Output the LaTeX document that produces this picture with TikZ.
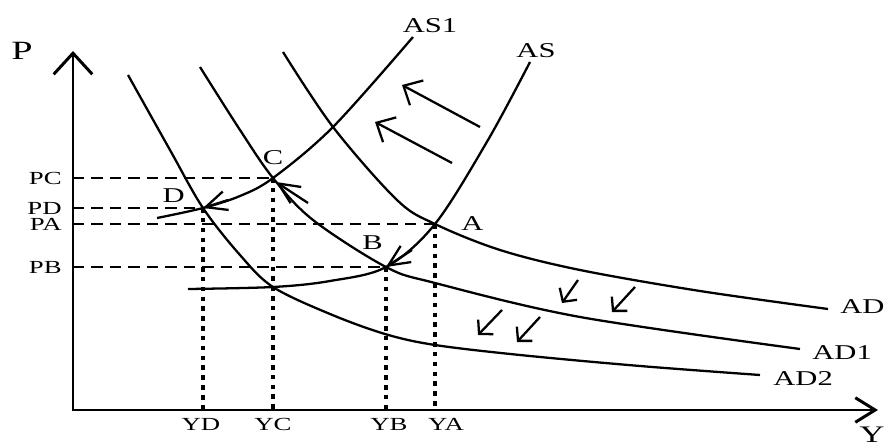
\documentclass[tikz,border=0pt]{standalone}
\usepackage{fontspec}
\setmainfont{Liberation Serif}
\newfontfamily\widefont{Liberation Serif}[FakeStretch=1.45]
\usetikzlibrary{arrows.meta, positioning}
\tikzset{
  >={Straight Barb[length=12pt,width=11pt]},
  axis/.style={line width=1.7pt},
  curve/.style={line width=1.3pt},
  guide/.style={line width=1.2pt, dash pattern=on 6.5pt off 4pt},
  drop/.style={line width=1.9pt, dash pattern=on 2.6pt off 3pt},
  move arrow/.style={->, line width=1.3pt},
  big arrow/.style={-{Straight Barb[length=8.5pt,width=16pt]}, line width=1.3pt},
  small arrow/.style={-{Straight Barb[length=5.5pt,width=12pt]}, line width=1.3pt},
  lbl/.style={font=\widefont\fontsize{12}{14}\selectfont, inner sep=0pt},
  tick lbl/.style={font=\widefont\fontsize{10.5}{12}\selectfont, inner sep=0pt},
  axis lbl/.style={font=\widefont\fontsize{15}{17}\selectfont, inner sep=0pt}
}
\begin{document}
\begin{tikzpicture}[x=0.02cm, y=-0.02cm]
  \useasboundingbox (0,0) rectangle (890,446);
  % axes
  \coordinate (O) at (73,410);
  \coordinate (Ptop) at (73,51);
  \coordinate (Yend) at (878,410);
  \draw[axis, {Straight Barb[length=12pt,width=22pt]}-{Straight Barb[length=11.3pt,width=14pt]}]
    (Ptop) -- (O) -- (Yend);
  \node[axis lbl] (lblP) at (22,51) {P};
  \node[axis lbl, font=\widefont\fontsize{13.5}{16}\selectfont, anchor=base] (lblY) at (872,442) {Y};
  % equilibrium points
  \coordinate (A) at (435,224);
  \coordinate (B) at (386,267);
  \coordinate (C) at (273,178);
  \coordinate (D) at (203,208);
  \coordinate (E) at (273,287);
  \foreach \p/\dx in {A/11,B/3,C/0,D/-2} {
    \coordinate (P\p) at (O |- \p);
    \coordinate (Y\p) at (O -| \p);
    \draw[guide] (P\p) -- (\p);
    \draw[drop] (\p) -- (Y\p);
    \node[tick lbl, left=0.22cm of P\p] (lblP\p) {P\p};
    \node[tick lbl, below=0.16cm of Y\p, xshift=\dx*0.02cm] (lblY\p) {Y\p};
  }
  % AD curves
  \draw[curve] plot[smooth, tension=0.55] coordinates
    {(283,52) (333,127) (397,200) (A) (500,250) (580,270) (700,291) (828,309)};
  \draw[curve] plot[smooth, tension=0.55] coordinates
    {(200,67) (240,130) (C) (313,220) (B) (435,283) (580,317) (800,349)};
  \draw[curve] plot[smooth, tension=0.55] coordinates
    {(128,75) (170,150) (D) (240,255) (E) (330,314) (385,334) (435,345) (520,355) (640,366) (760,375)};
  % AS curves
  \draw[curve] plot[smooth, tension=0.55] coordinates
    {(157,218) (D) (240,196) (C) (333,127) (413,37)};
  \draw[curve] plot[smooth, tension=0.55] coordinates
    {(188,289) (E) (330,281) (B) (A) (488,140) (530,62)};
  \node[lbl, anchor=west] (lblAD) at (840,307) {AD};
  \node[lbl, anchor=west] (lblAD1) at (812,353) {AD1};
  \node[lbl, anchor=west] (lblAD2) at (773,379) {AD2};
  \node[lbl] (lblAS1) at (430,26) {AS1};
  \node[lbl] (lblAS) at (536,51) {AS};
  \node[lbl, right=0.52cm of A] (lblA) {A};
  \node[lbl, above left=0.34cm and 0.06cm of B] (lblB) {B};
  \node[lbl, above=0.26cm of C] (lblC) {C};
  \node[lbl, above left=0.1cm and 0.36cm of D] (lblD) {D};
  % movements
  \coordinate (dTail) at (228,200);
  \coordinate (bTail) at (412,250);
  \coordinate (cTail) at (308,203);
  \coordinate (cTip) at (276,182);
  \draw[move arrow] (dTail) -- (D);
  \draw[move arrow] (bTail) -- (B);
  \draw[move arrow] (cTail) -- (cTip);
  \coordinate (up1a) at (480,127); \coordinate (up1b) at (402,85);
  \coordinate (up2a) at (452,163); \coordinate (up2b) at (375,122);
  \draw[big arrow] (up1a) -- (up1b);
  \draw[big arrow] (up2a) -- (up2b);
  \foreach \t/\h in {{(578,280)}/{(562,303)}, {(635,287)}/{(612,312)},
                     {(502,310)}/{(478,335)}, {(540,317)}/{(517,342)}} {
    \draw[small arrow] \t -- \h;
  }
\end{tikzpicture}
\end{document}
